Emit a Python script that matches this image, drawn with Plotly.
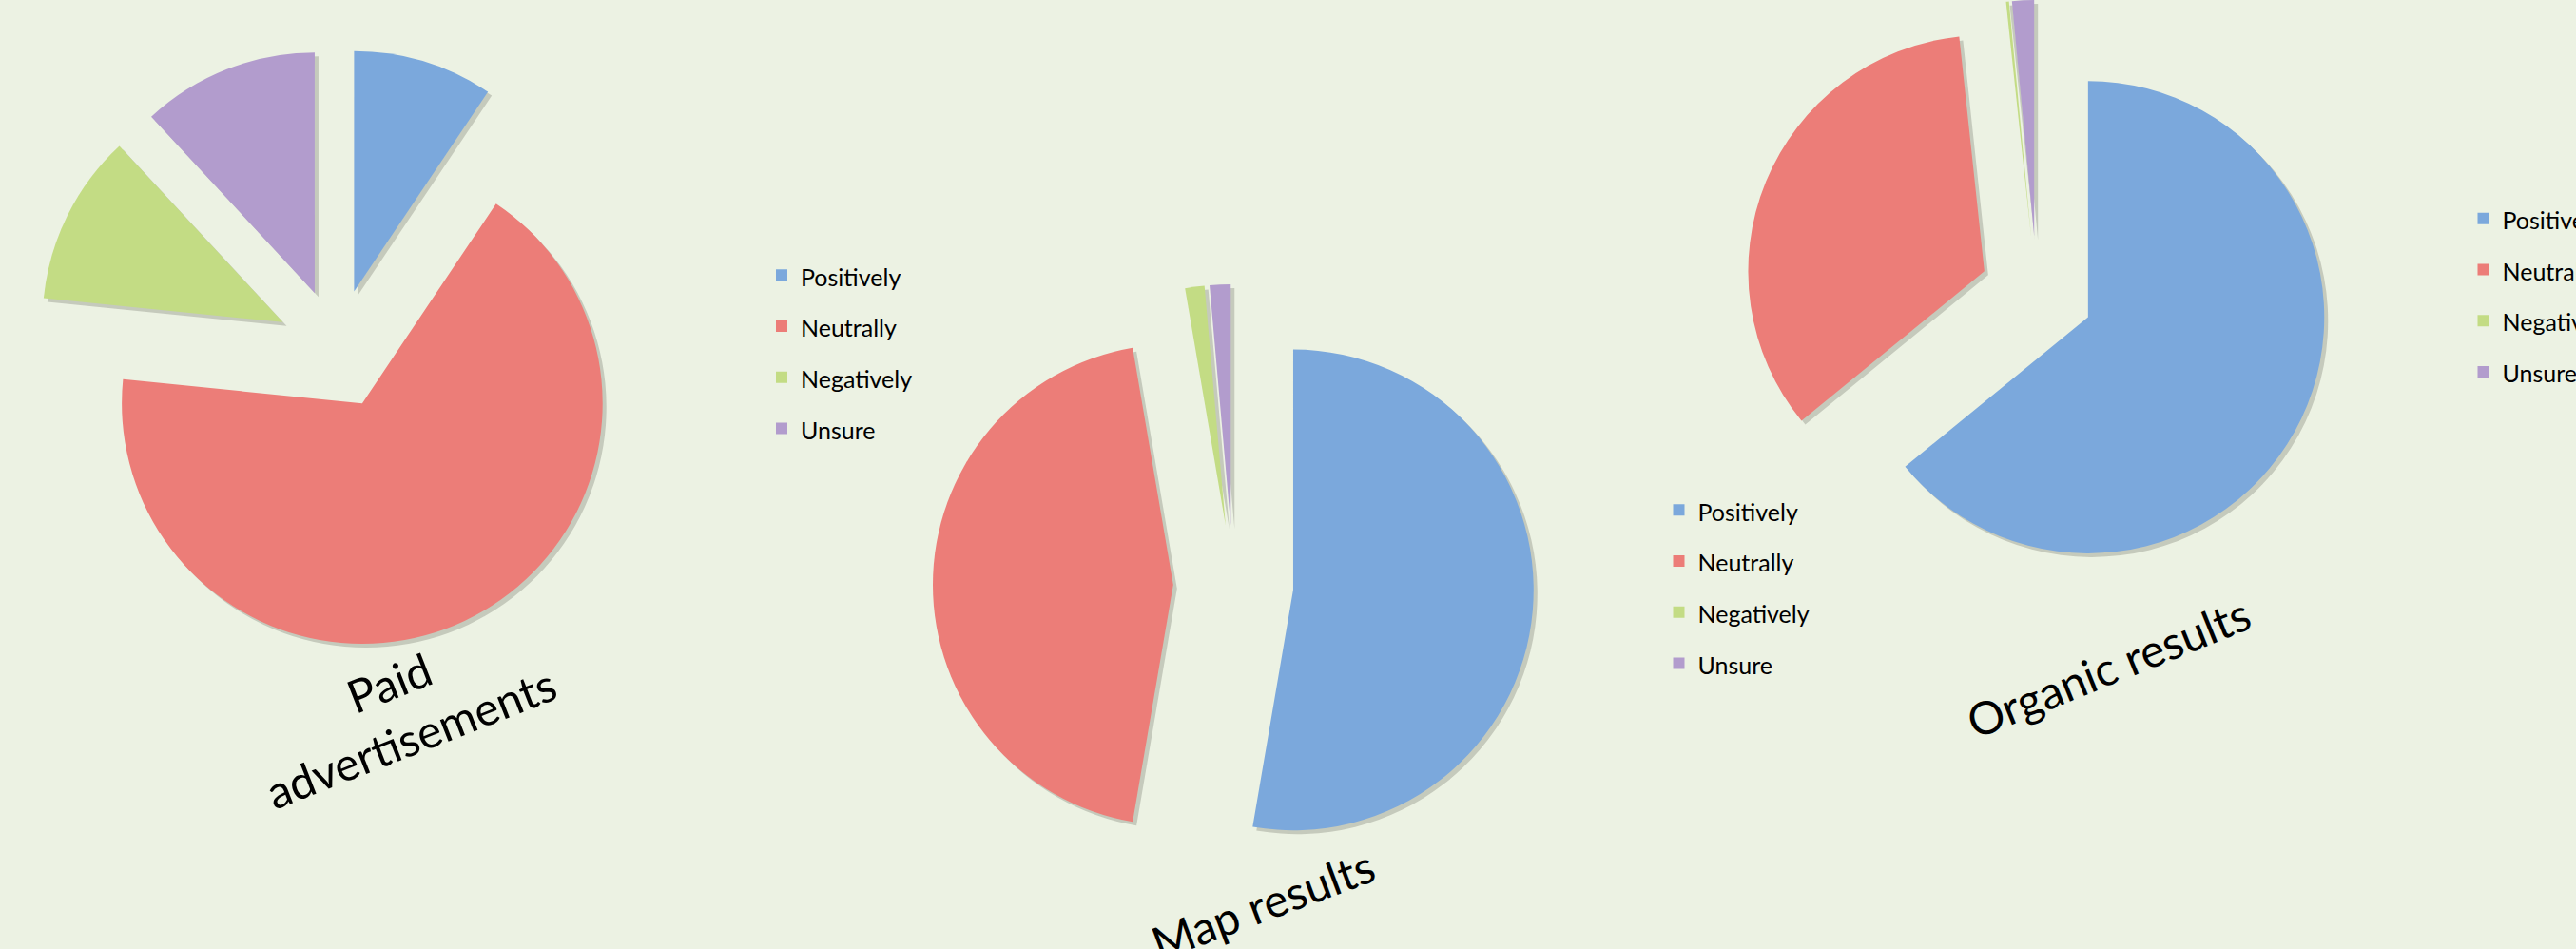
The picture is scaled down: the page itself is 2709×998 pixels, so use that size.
import plotly.graph_objects as go

W, H = 2709, 998

# Survey answers, in percent, for each kind of search result
categories = ["Positively", "Neutrally", "Negatively", "Unsure"]
paid_values = [9.4, 67.2, 11.5, 11.9]
map_values = [52.7, 44.6, 1.3, 1.4]
organic_values = [64.1, 34.2, 0.2, 1.5]
chart_titles = ["Paid<br>advertisements", "Map results", "Organic results"]

slice_colors = ["#7ba8dc", "#ec7d78", "#c3dc84", "#b29ccd"]
BG = "#ecf2e3"
FONT = "Lato"


def domain(cx, cy, hw, hh, dx=0, dy=0):
    """Pixel box (centre and half sizes) -> paper-fraction domain."""
    cx, cy = cx + dx, cy + dy
    x0, x1 = (cx - hw) / W, (cx + hw) / W
    y0, y1 = 1 - (cy + hh) / H, 1 - (cy - hh) / H
    return dict(x=[max(0, x0), min(1, x1)], y=[max(0, y0), min(1, y1)])


# values, pixel box (centre x, centre y, half width, half height), pull, legend id, group
pies = [
    (paid_values, (354, 367, 316, 316), 0.25, "legend", "paid"),
    (map_values, (1297, 615, 316, 316), 0.25, "legend2", "map"),
    (organic_values, (2142, 308, 316, 308), 0.24, "legend3", "organic"),
]

legend_labels = [
    f"<span style='font-size:25px;baseline-shift:4px'>{c}</span>" for c in categories
]

fig = go.Figure()
for values, box, pull, leg, group in pies:
    # soft drop shadow under the exploded slices
    fig.add_trace(go.Pie(
        labels=legend_labels, values=values, sort=False, direction="clockwise",
        rotation=0, pull=pull, domain=domain(*box, dx=4, dy=4),
        marker=dict(colors=["rgba(60,60,50,0.22)"] * 4, line=dict(width=0)),
        textinfo="none", hoverinfo="skip", showlegend=False,
        legend=leg, legendgroup=group + "_shadow",
    ))
    fig.add_trace(go.Pie(
        labels=legend_labels, values=values, sort=False, direction="clockwise",
        rotation=0, pull=pull, domain=domain(*box),
        marker=dict(colors=slice_colors, line=dict(width=0)),
        textinfo="none", hoverinfo="label+percent",
        legend=leg, legendgroup=group,
    ))

legend_style = dict(font=dict(family=FONT, size=39, color="#000000"),
                    bgcolor="rgba(0,0,0,0)", borderwidth=0,
                    xanchor="left", yanchor="top", traceorder="normal")
legend_pos = {"legend": (802, 257.5), "legend2": (1745.5, 504.5), "legend3": (2591.5, 198)}

title_pos = [(420, 746, -21.5), (1328, 950, -20.5), (2217, 701, -22)]
annotations = [
    dict(text=t, x=x / W, y=1 - y / H, xref="paper", yref="paper",
         xanchor="center", yanchor="middle", textangle=a, showarrow=False,
         font=dict(family=FONT, size=48, color="#000000"), align="center")
    for t, (x, y, a) in zip(chart_titles, title_pos)
]

layout = dict(
    width=W, height=H,
    margin=dict(l=0, r=0, t=0, b=0, autoexpand=False),
    paper_bgcolor=BG, plot_bgcolor=BG,
    annotations=annotations,
    font=dict(family=FONT),
)
for key, (lx, ly) in legend_pos.items():
    layout[key] = dict(legend_style, x=lx / W, y=1 - ly / H)

fig.update_layout(**layout)
fig.write_html("out.html")
